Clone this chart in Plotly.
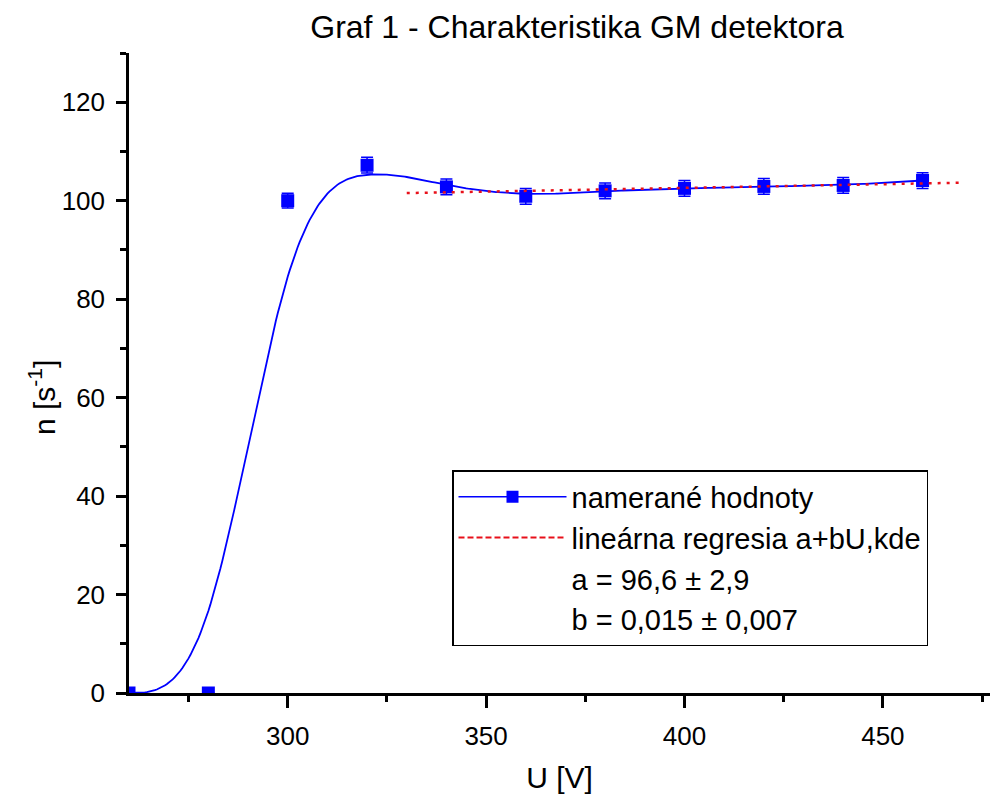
import numpy as np
import plotly.graph_objects as go

# ---- data ----
U_V = [260, 280, 300, 320, 340, 360, 380, 400, 420, 440, 460]
n_rate = [0.0, 0.0, 100.0, 107.2, 102.8, 100.9, 102.0, 102.5, 102.9, 103.1, 104.1]
n_err = [0.0, 0.0, 1.5, 1.6, 1.6, 1.6, 1.6, 1.6, 1.6, 1.6, 1.6]

REG_A = 96.6
REG_B = 0.015
REG_U_RANGE = [330, 470]

TITLE = "Graf 1 - Charakteristika GM detektora"
X_TITLE = "U [V]"
Y_TITLE = "n [s<sup>-1</sup>]"
NAME_DATA = "namerané hodnoty"
NAME_REG = "lineárna regresia a+bU,kde"
TXT_A = "a = 96,6 ± 2,9"
TXT_B = "b = 0,015 ± 0,007"

FONT = "Liberation Sans, Arial, sans-serif"


def uniform_bspline(px, py, per_seg=40):
    """Uniform cubic B-spline through data used as control points,
    with reflected phantom end points (curve starts/ends at the end points)."""
    px = np.asarray(px, float)
    py = np.asarray(py, float)
    P = np.column_stack([px, py])
    P = np.vstack([2 * P[0] - P[1], P, 2 * P[-1] - P[-2]])
    out = []
    t = np.linspace(0, 1, per_seg, endpoint=False)
    nseg = len(px) - 1
    for s in range(nseg):
        p0, p1, p2, p3 = P[s], P[s + 1], P[s + 2], P[s + 3]
        b0 = (1 - t) ** 3 / 6
        b1 = (3 * t ** 3 - 6 * t ** 2 + 4) / 6
        b2 = (-3 * t ** 3 + 3 * t ** 2 + 3 * t + 1) / 6
        b3 = t ** 3 / 6
        seg = np.outer(b0, p0) + np.outer(b1, p1) + np.outer(b2, p2) + np.outer(b3, p3)
        out.append(seg)
    last = (P[-3] + 4 * P[-2] + P[-1]) / 6
    out.append(last[None, :])
    out = np.vstack(out)
    return out[:, 0], out[:, 1]


cx, cy = uniform_bspline(U_V, n_rate)
reg_x = np.array(REG_U_RANGE, float)
reg_y = REG_A + REG_B * reg_x

BLUE = "#0000ff"
RED = "#e8101a"

fig = go.Figure()
fig.add_trace(go.Scatter(x=cx, y=cy, mode="lines", line=dict(color=BLUE, width=1.8),
                         showlegend=False, hoverinfo="skip"))
fig.add_trace(go.Scatter(x=U_V, y=n_rate, mode="markers",
                         marker=dict(symbol="square", size=13, color=BLUE),
                         error_y=dict(type="data", array=n_err, visible=True,
                                      color=BLUE, thickness=1.5, width=6),
                         showlegend=False))
fig.add_trace(go.Scatter(x=reg_x, y=reg_y, mode="lines",
                         line=dict(color=RED, width=2.5, dash="3px,6px"),
                         showlegend=False))
# legend entries
fig.add_trace(go.Scatter(x=[None], y=[None], mode="lines+markers", name=NAME_DATA,
                         line=dict(color=BLUE, width=1.5),
                         marker=dict(symbol="square", size=12, color=BLUE)))
fig.add_trace(go.Scatter(x=[None], y=[None], mode="lines", name=NAME_REG,
                         line=dict(color=RED, width=2, dash="6px,3px")))
fig.add_trace(go.Scatter(x=[None], y=[None], mode="lines", name=TXT_A,
                         line=dict(color="rgba(0,0,0,0)", width=1)))
fig.add_trace(go.Scatter(x=[None], y=[None], mode="lines", name=TXT_B,
                         line=dict(color="rgba(0,0,0,0)", width=1)))

axis_common = dict(showline=True, linecolor="black", linewidth=2.5, showgrid=False,
                   zeroline=False, ticks="outside", tickcolor="black", tickwidth=2.5,
                   tickfont=dict(family=FONT, size=26, color="black"))

fig.update_xaxes(range=[260, 477], dtick=50, tick0=0, ticklen=12,
                 minor=dict(dtick=25, tick0=0, ticks="outside", ticklen=6,
                            tickwidth=2.5, tickcolor="black"),
                 ticklabelstandoff=6,
                 title=dict(text=X_TITLE, font=dict(family=FONT, size=30, color="black"),
                            standoff=18),
                 **axis_common)
fig.update_yaxes(range=[0, 130], dtick=20, tick0=0, ticklen=10,
                 minor=dict(dtick=10, tick0=0, ticks="outside", ticklen=6,
                            tickwidth=2.5, tickcolor="black"),
                 ticklabelstandoff=6,
                 **axis_common)

fig.add_annotation(text=Y_TITLE, textangle=-90, xref="paper", yref="paper",
                   x=(42 - 129) / 861, y=(693 - 398) / 640, showarrow=False,
                   xanchor="center", yanchor="middle",
                   font=dict(family=FONT, size=30, color="black"))

fig.update_layout(
    width=992, height=794,
    margin=dict(l=129, r=2, t=53, b=101),
    paper_bgcolor="white", plot_bgcolor="white",
    title=dict(text=TITLE, x=577 / 992, xanchor="center", y=1 - 27 / 794,
               yanchor="middle", xref="container", yref="container",
               font=dict(family=FONT, size=32, color="black")),
    legend=dict(x=(452 - 129) / 861, y=(693 - 470) / 640, xanchor="left", yanchor="top",
                bordercolor="black", borderwidth=1.5, bgcolor="white",
                font=dict(family=FONT, size=29, color="black"),
                itemwidth=108, tracegroupgap=0),
    showlegend=True,
)

fig.write_html("out.html", config={"displayModeBar": False},
               post_script="document.body.style.margin='0';")
